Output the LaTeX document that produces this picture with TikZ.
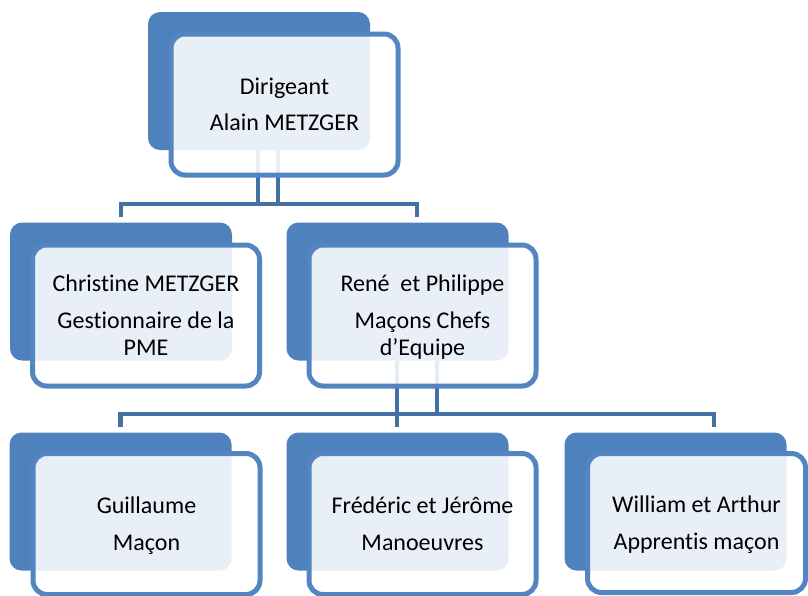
\documentclass[tikz,border=0pt]{standalone}
\usepackage{fontspec}
\setmainfont{Carlito}[Ligatures={NoCommon,NoRequired,NoContextual},Contextuals={NoAlternate}]
\usetikzlibrary{backgrounds}
\definecolor{backblue}{HTML}{4F81BD}
\definecolor{frameblue}{HTML}{5385C1}
\definecolor{connblue}{HTML}{4471A4}
\newcommand\nolg{\kern0pt }
\begin{document}
\begin{tikzpicture}[x=1pt,y=-1pt,
  backbox/.style={fill=backblue, rounded corners=12pt, minimum width=222pt, minimum height=138pt, inner sep=0pt, outer sep=0pt},
  frontbox/.style={draw=frameblue, line width=5pt, fill=white, fill opacity=0.875, text opacity=1, draw opacity=1,
    rounded corners=14pt, minimum width=227pt, minimum height=141pt, inner sep=0pt, align=center,
    font=\fontsize{24}{27}\selectfont, text depth=0pt},
  conn/.style={draw=connblue, line width=4.5pt, line join=miter}]
\useasboundingbox (0,0) rectangle (808,595);

% top
\node[backbox] (b1) at (259,81) {};
\node[frontbox] (f1) at (284.5,104.5) {Dirigeant\\[9pt]Alain METZGER};
% second row
\node[backbox] (b2) at (121,291.5) {};
\node[frontbox] (f2) at (146,315.5) {Christ\nolg ine METZGER\\[10pt]Gestionnaire de la\\PME};
\node[backbox] (b3) at (397.5,291.5) {};
\node[frontbox] (f3) at (422.5,315.5) {René\ \ et Philippe\\[10pt]Maçons Chefs\\d’Equipe};
% third row
\node[backbox] (b4) at (120.5,501.5) {};
\node[frontbox] (f4) at (146.5,524) {Guillaume\\[10pt]Maçon};
\node[backbox] (b5) at (397.5,501.5) {};
\node[frontbox] (f5) at (422.5,524) {Frédéric et Jérôme\\[10pt]Manoeuvres};
\node[backbox] (b6) at (675.5,501.5) {};
\node[frontbox, minimum width=218pt, minimum height=139pt] (f6) at (696.5,523) {William et Arthur\\[10pt]Apprent\nolg is maçon};

\coordinate (barAL) at (121,204);
\coordinate (barAR) at (417,204);
\coordinate (barBL) at (120.5,414);
\coordinate (barBR) at (714,414);

\begin{scope}[on background layer]
  \draw[conn] ([xshift=-1pt]b1.south) -- ([xshift=-1pt]b1.south |- barAL);
  \draw[conn] ([xshift=19pt]b1.south) -- ([xshift=19pt]b1.south |- barAL);
  \draw[conn] ([yshift=6pt]b2.north) -- (barAL) -- (barAR) -- ([yshift=6pt]b3.north -| barAR);
  \draw[conn] ([xshift=-0.5pt]b3.south) -- ([xshift=-0.5pt,yshift=6pt]b5.north);
  \draw[conn] ([xshift=39.5pt]b3.south) -- ([xshift=39.5pt]b3.south |- barBL);
  \draw[conn] ([yshift=6pt]b4.north) -- (barBL) -- (barBR) -- ([yshift=6pt]b6.north -| barBR);
\end{scope}
\end{tikzpicture}
\end{document}
